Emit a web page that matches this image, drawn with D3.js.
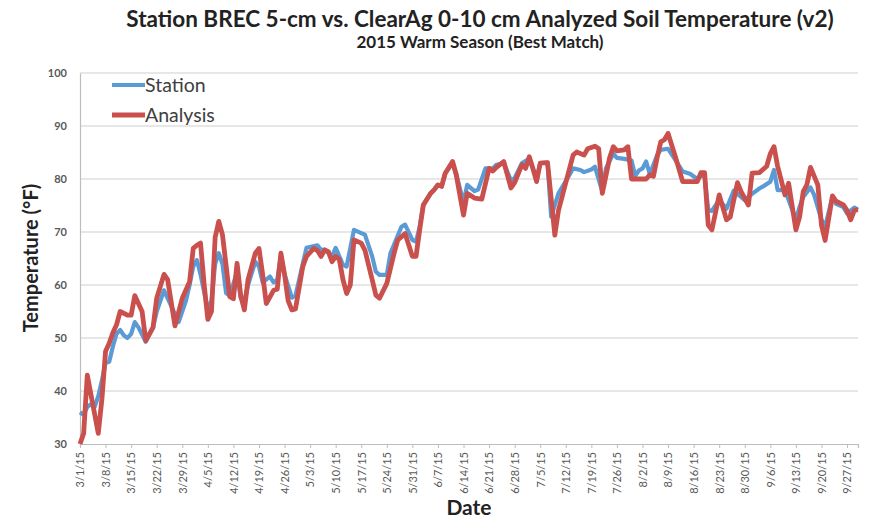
<!DOCTYPE html>
<html><head><meta charset="utf-8">
<script src="https://cdn.jsdelivr.net/npm/d3@7"></script>
<style>
html,body{margin:0;padding:0;background:#fff;}
text{font-family:Lato,"Open Sans",sans-serif;}
</style></head>
<body><svg id="c" width="896" height="530"></svg>
<script>
// Days since 3/1/2015 and temperatures (°F)
const stationDay = [0,1,2,3,4,5,6,7,8,9,10,11,12,13,14,15,16,18,20,21,23,25,27,29,30,31,32,33,35,36,37,38,39,40,41,43,44,45,46,48,49,50,52,53,54,55,56,58,59,61,62,65,66,67,69,70,72,73,75,77,78,80,81,82,84,85,88,89,91,92,93,94,96,97,98,99,100,102,103,105,106,108,109,111,113,114,116,118,119,121,123,125,126,128,129,131,133,135,137,138,140,141,143,144,146,147,149,151,152,153,154,155,156,158,159,161,163,165,167,169,170,171,172,173,175,177,179,182,184,186,187,189,190,191,193,196,197,198,200,201,203,204,206,207,209,210,212,213];
const stationTemp = [36,35.5,37,37.5,37,39,42,45.3,45.5,48.4,50.8,51.5,50.5,50,50.8,53,52,49.3,52,55,59,56,53,57,60,63.5,64.7,62,55.3,57,64,66,64,58.5,58,62.5,57.5,57,60,64.4,63.5,60.5,61.6,60.5,61,65.5,62,57.6,58,64,67,67.5,66.6,66.7,65.4,67,63.8,63.5,70.4,69.8,69.5,65.4,62.5,61.9,61.9,66,71,71.4,68.5,68.2,71,75.1,77.3,78,78.9,78.6,81.1,83,81,75.5,78.9,77.7,78,82,82,82.7,83,79.7,80.2,83,83.8,80,83,83.1,72.9,77.3,79.6,82,81.7,81.3,81.8,82.3,77.6,82,84.8,84,83.8,83.5,80.6,81.6,82,83.3,80.9,84.5,85.5,85.7,83.6,81.4,81,80,80.6,80.5,74.1,74,76,74.4,77.8,76,77.2,78.2,78.6,79.5,81.7,77.9,77.9,72.3,74.7,76.6,78.4,77,72.3,71,76.6,75.3,74.7,73.5,74.6,74.2];
const analysisDay = [0,1,2,5,6,7,8,9,10,11,13,14,15,17,18,20,21,23,24,26,28,30,31,32,33,34,35,36,37,38,39,41,42,43,44,45,46,48,49,50,51,53,54,55,56,57,58,59,61,62,64,65,66,67,68,69,70,71,72,73,74,75,77,78,80,81,82,84,86,87,89,91,92,93,94,96,97,98,99,100,102,103,105,106,108,110,112,113,114,116,118,119,121,122,123,124,125,126,128,130,131,133,135,136,138,139,141,142,143,145,146,147,149,150,151,153,155,156,157,158,159,160,161,163,165,167,169,170,171,172,173,175,177,178,180,181,183,184,186,188,189,190,191,193,194,196,197,198,199,200,202,203,204,206,207,209,210,211,212,213];
const analysisTemp = [30,32,43,32,38.5,47.5,49,51,52.5,55,54.3,54.3,58,55,49.5,52,57.5,62,61,52.3,57.5,60.6,66.9,67.5,67.9,60,53.5,55,69,72,69.5,57.8,57.4,64.1,58,55.3,61,66,66.9,62,56.5,59,59.2,66,62,57,55.3,55.5,63.5,65.4,66.9,66.5,65.4,66.6,66.3,64.4,65.4,64.8,61,58.4,60,68.5,67.9,66.6,61,58.1,57.5,60.3,66,68.5,69.7,65.4,65.4,70.4,75.1,77.3,78,78.9,78.6,81.1,83.3,80.8,73.2,77.3,76.4,76.2,82,81.5,82.2,83.3,78.3,79.3,82.7,82,84.2,82,79.5,83,83.1,69.4,74.1,79.3,84.5,85.1,84.5,85.7,86.2,85.7,77.3,84,86.1,85.3,85.5,86.1,80,80,80,80.8,80.5,84,87,87.4,88.6,84.2,79.5,79.5,79.5,81.2,81.2,71.3,70.4,77,72.3,72.8,79.3,77.6,75.1,81.1,81.2,82.4,84.8,86.1,82.4,77,79.2,70.4,72.8,77.6,78.9,82.2,78.9,71.3,68.4,76.8,75.8,75.1,74.1,72.3,74.1,74.2];
const xTickLabels = ["3/1/15","3/8/15","3/15/15","3/22/15","3/29/15","4/5/15","4/12/15","4/19/15","4/26/15","5/3/15","5/10/15","5/17/15","5/24/15","5/31/15","6/7/15","6/14/15","6/21/15","6/28/15","7/5/15","7/12/15","7/19/15","7/26/15","8/2/15","8/9/15","8/16/15","8/23/15","8/30/15","9/6/15","9/13/15","9/20/15","9/27/15"];
const yTicks = [30,40,50,60,70,80,90,100];
const seriesNames = ["Station","Analysis"];
const seriesColors = ["#5b9bd5","#c9504c"];

const svg = d3.select("#c");
const start = new Date(2015,2,1), end = new Date(2015,8,30);
const x = d3.scaleTime().domain([start,end]).range([80,858]);
const y = d3.scaleLinear().domain([30,100]).range([444,73]);
const parse = d3.timeParse("%-m/%-d/%y");
const dayDate = d => d3.timeDay.offset(start,d);

// grid
svg.append("g").selectAll("line").data(yTicks.slice(1)).join("line")
  .attr("x1",80).attr("x2",858).attr("y1",d=>y(d)).attr("y2",d=>y(d))
  .attr("stroke","#cfcfcf").attr("stroke-width",1.2);

// y axis
const ya = svg.append("g").attr("transform","translate(80,0)")
  .call(d3.axisLeft(y).tickValues(yTicks).tickSize(0).tickPadding(13));
ya.select(".domain").attr("stroke","#bdbdbd").attr("stroke-width",1.2);
ya.selectAll("text").attr("fill","#595959").style("font-size","11px").style("font-weight","700");

// x axis
const xa = svg.append("g").attr("transform","translate(0,444)")
  .call(d3.axisBottom(x).tickValues(xTickLabels.map(parse)).tickSize(4)
    .tickFormat((d,i)=>xTickLabels[i]));
xa.select(".domain").attr("stroke","#bdbdbd").attr("stroke-width",1.2);
xa.selectAll(".tick line").attr("stroke","#bdbdbd");
xa.selectAll("text").attr("fill","#595959").style("font-size","11px")
  .attr("transform","rotate(-90)").attr("text-anchor","end")
  .attr("x",-8).attr("y",0).attr("dy","0.35em");

// lines
const line = d3.line().x(d=>x(dayDate(d[0]))).y(d=>y(d[1]));
const st = stationDay.map((d,i)=>[d,stationTemp[i]]);
const an = analysisDay.map((d,i)=>[d,analysisTemp[i]]);
svg.append("path").datum(st).attr("d",line).attr("fill","none")
  .attr("stroke",seriesColors[0]).attr("stroke-width",4.2).attr("stroke-linejoin","round");
svg.append("path").datum(an).attr("d",line).attr("fill","none")
  .attr("stroke",seriesColors[1]).attr("stroke-width",4.8).attr("stroke-linejoin","round");

// legend
seriesNames.forEach((n,i)=>{
  const ly = 85 + i*30;
  svg.append("line").attr("x1",112).attr("x2",145).attr("y1",ly).attr("y2",ly)
    .attr("stroke",seriesColors[i]).attr("stroke-width",i?4.8:4.2);
  svg.append("text").attr("x",145).attr("y",ly).attr("dy","0.36em")
    .attr("fill","#404040").style("font-size","19.5px").text(n);
});

// titles
svg.append("text").attr("x",480).attr("y",27).attr("text-anchor","middle")
  .style("font-size","22.5px").style("font-weight","700").attr("fill","#222")
  .text("Station BREC 5-cm vs. ClearAg 0-10 cm Analyzed Soil Temperature (v2)");
svg.append("text").attr("x",480).attr("y",48).attr("text-anchor","middle")
  .style("font-size","17px").style("font-weight","700").attr("fill","#222")
  .text("2015 Warm Season (Best Match)");
svg.append("text").attr("transform","translate(38,258) rotate(-90)").attr("text-anchor","middle")
  .style("font-size","20px").style("font-weight","700").attr("fill","#222")
  .text("Temperature (°F)");
svg.append("text").attr("x",469).attr("y",515).attr("text-anchor","middle")
  .style("font-size","21px").style("font-weight","700").attr("fill","#222")
  .text("Date");
</script></body></html>
